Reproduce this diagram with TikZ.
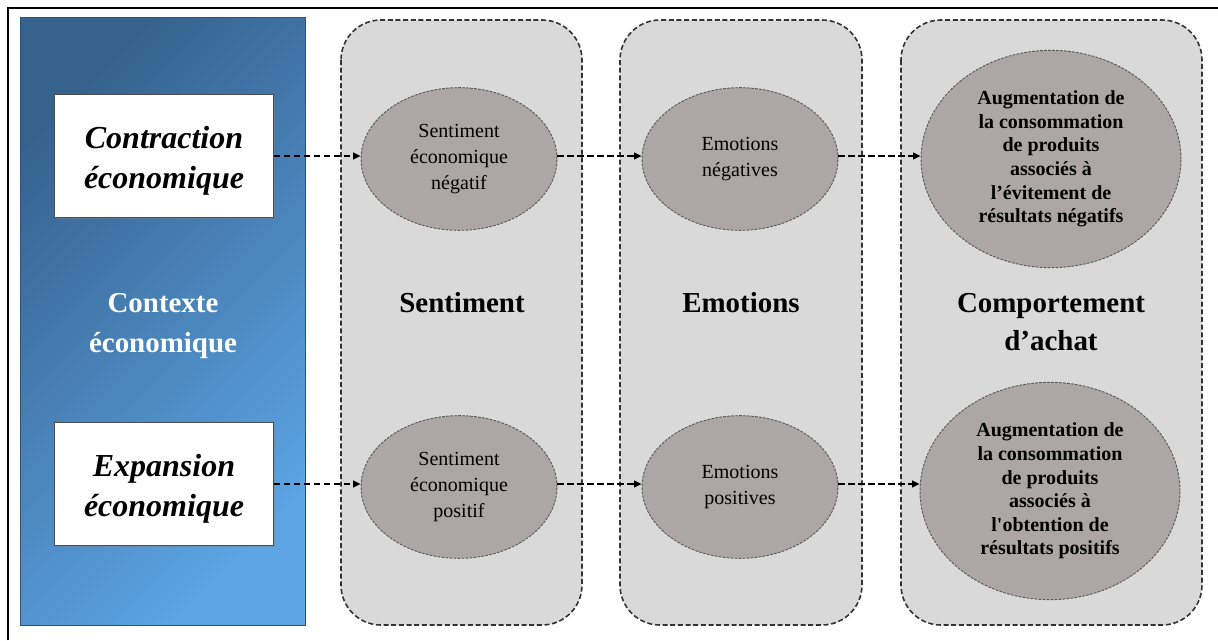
\documentclass[tikz,border=0pt]{standalone}
\usepackage{fontspec}
\setmainfont{Liberation Serif}
\usepackage{tikz}
\usetikzlibrary{arrows.meta}
\usetikzlibrary{shapes.geometric, shadows}
\definecolor{colgray}{RGB}{217,217,217}
\definecolor{ovalgray}{RGB}{172,167,166}
\definecolor{ctxdark}{RGB}{54,98,142}
\definecolor{ctxlight}{RGB}{92,164,228}

\begin{document}
\begin{tikzpicture}[x=0.75pt, y=-0.75pt,
    column/.style={draw=black!80, fill=colgray, line width=1.2pt,
        dash pattern=on 3.75pt off 2pt, rounded corners=30pt},
    oval/.style={ellipse, draw=black!65, fill=ovalgray, line width=0.7pt,
        dash pattern=on 2pt off 1pt, inner sep=0pt, minimum width=147pt,
        minimum height=107pt, align=center,
        font=\fontsize{15}{19.5}\selectfont},
    bigoval/.style={oval, minimum width=195pt, minimum height=163pt,
        font=\fontsize{15}{17.7}\selectfont\bfseries},
    case/.style={draw=black!70, fill=white, line width=0.6pt,
        minimum width=164pt, minimum height=92pt, align=center,
        font=\fontsize{24}{30}\selectfont\bfseries\itshape,
        drop shadow={shadow xshift=1.5pt, shadow yshift=-1.5pt, opacity=0.4}},
    title/.style={align=center, font=\fontsize{21.7}{28}\selectfont\bfseries},
    flow/.style={-{Triangle[length=5.5pt,width=5pt]}, line width=1.6pt,
        dash pattern=on 5pt off 2.5pt}]

\useasboundingbox (0,0) rectangle (1218,640);
\draw[line width=1.5pt] (7.5,640) -- (7.5,8) -- (1218,8);

\shade[top color=ctxdark, bottom color=ctxlight, shading angle=45,
    draw=ctxdark!85!black, line width=0.5pt,
    drop shadow={shadow xshift=1pt, shadow yshift=-1pt, opacity=0.35}]
    (20,17) rectangle (305,625);

\foreach \xa/\xb in {341/582, 620/862, 901/1202}
    \draw[column] (\xa,20) rectangle (\xb,625);

\node[case] (contr) at (164,156) {\rule{0pt}{24pt}Contraction\\économique};
\node[case] (expan) at (164,484) {\rule{0pt}{24pt}Expansion\\économique};
\node[title, text=white, font=\fontsize{21.7}{30}\selectfont\bfseries] (tctx) at (163,326) {Contexte\\économique};

\node[title] (tsent) at (462,303) {Sentiment};
\node[title] (temo) at (741,303) {Emotions};
\node[title] (tcomp) at (1051,322) {Comportement\\d’achat};

\node[oval] (sneg) at (459,159) {Sentiment\\économique\\négatif};
\node[oval] (eneg) at (740,159) {Emotions\\négatives};
\node[bigoval] (cneg) at (1051,159)
    {Augmentation de\\la consommation\\de produits\\associés à\\l’évitement de\\résultats négatifs};

\node[oval] (spos) at (459,487) {Sentiment\\économique\\positif};
\node[oval] (epos) at (740,487) {Emotions\\positives};
\node[bigoval] (cpos) at (1050,491)
    {Augmentation de\\la consommation\\de produits\\associés à\\l\textquotesingle obtention de\\résultats positifs};

\coordinate (t1) at (contr.east);
\coordinate (t2) at (expan.east);

\foreach \r/\a/\b in {t1/contr/sneg, t1/sneg/eneg, t1/eneg/cneg,
    t2/expan/spos, t2/spos/epos, t2/epos/cpos}
    \draw[flow] (\a.east |- \r) -- (\b.west |- \r);

\end{tikzpicture}
\end{document}
